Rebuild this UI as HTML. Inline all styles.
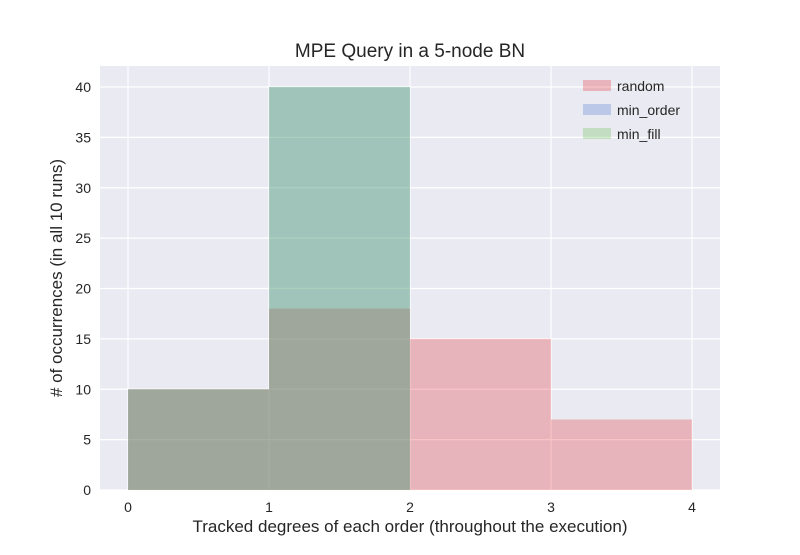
<!DOCTYPE html>
<html><head><meta charset="utf-8"><style>
body{margin:0;background:#fff;font-family:"Liberation Sans",sans-serif}
</style></head><body>
<svg width="800" height="550" xmlns="http://www.w3.org/2000/svg">
<rect x="100" y="66" width="620" height="424" fill="#EAEAF2"/>
<g id="grid"></g>
<g id="bars"></g>
<g id="ticks" font-size="14" fill="#262626"></g>
<text x="410" y="57" text-anchor="middle" font-size="19" fill="#262626">MPE Query in a 5-node BN</text>
<text x="410" y="532" text-anchor="middle" font-size="17" fill="#262626">Tracked degrees of each order (throughout the execution)</text>
<text transform="translate(62,278) rotate(-90)" text-anchor="middle" font-size="17" fill="#262626"># of occurrences (in all 10 runs)</text>
<g id="legend" font-size="14" fill="#262626"></g>
</svg>
<script>
const binEdges=[0,1,2,3,4];
const seriesNames=["random","min_order","min_fill"];
const randomCounts=[10,18,15,7];
const minOrderCounts=[10,40,0,0];
const minFillCounts=[10,40,0,0];
const xTicks=[0,1,2,3,4];
const yTicks=[0,5,10,15,20,25,30,35,40];
const colors=["rgb(226,18,26)","rgb(50,100,200)","rgb(76,182,46)"];
const NS="http://www.w3.org/2000/svg";
const xs=v=>128+v*141;
const ys=v=>490-v*10.075;
function mk(t,a,p){const e=document.createElementNS(NS,t);for(const k in a)e.setAttribute(k,a[k]);p.appendChild(e);return e;}
const grid=document.getElementById('grid'),ticks=document.getElementById('ticks'),bars=document.getElementById('bars'),legend=document.getElementById('legend');
xTicks.forEach(v=>{
 const l=mk('line',{x1:xs(v),x2:xs(v),y1:66,y2:490,stroke:'#fff','stroke-width':1.2},grid);
 
 
 const t=mk('text',{x:xs(v),y:512,'text-anchor':'middle'},ticks);t.textContent=v;
 
 
});
yTicks.forEach(v=>{
 const l=mk('line',{x1:100,x2:720,y1:ys(v),y2:ys(v),stroke:'#fff','stroke-width':1.2},grid);
 
 
 const t=mk('text',{x:91,y:ys(v)+5,'text-anchor':'end'},ticks);t.textContent=v;
 
 
});
[randomCounts,minOrderCounts,minFillCounts].forEach((arr,si)=>{
 arr.forEach((c,i)=>{
  if(c<=0)return;
  const r=mk('rect',{x:xs(binEdges[i]),y:ys(c),width:xs(binEdges[i+1])-xs(binEdges[i]),height:ys(0)-ys(c),fill:colors[si],'fill-opacity':0.25},bars);
  
  
 });
});
seriesNames.forEach((n,i)=>{
 const y=80+i*24;
 const r=mk('rect',{x:583,y:y,width:28,height:11,fill:colors[i],'fill-opacity':0.25},legend);
 
 
 const t=mk('text',{x:617,y:y+11},legend);t.textContent=n;
 
 
});
</script>
</body></html>
